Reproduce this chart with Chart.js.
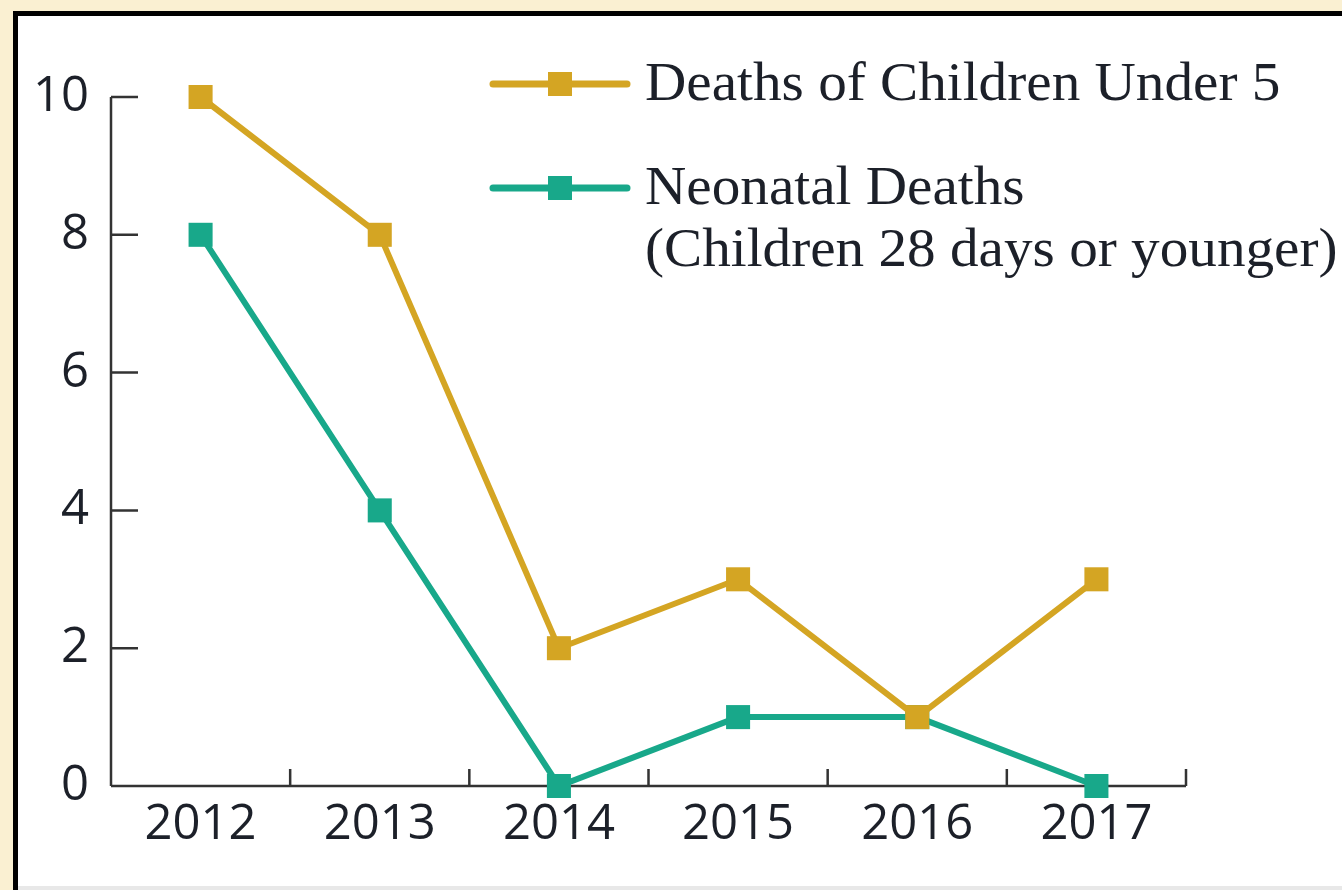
<!DOCTYPE html>
<html>
<head>
<meta charset="utf-8">
<script src="https://cdn.jsdelivr.net/npm/chart.js@4"></script>
<style>
html,body{margin:0;padding:0;background:#faf0d2;}
#wrap{position:absolute;left:0;top:0;width:1342px;height:890px;}
canvas{display:block;}
</style>
</head>
<body>
<div id="wrap"><canvas id="c" width="1342" height="890"></canvas></div>
<script>
const years = ['2012', '2013', '2014', '2015', '2016', '2017'];
const under5Deaths = [10, 8, 2, 3, 1, 3];
const neonatalDeaths = [8, 4, 0, 1, 1, 0];
const yTickValues = [0, 2, 4, 6, 8, 10];
const seriesLabels = [['Deaths of Children Under 5'], ['Neonatal Deaths', '(Children 28 days or younger)']];

const GOLD = '#d4a523';
const TEAL = '#18a88a';
const AXIS = '#333333';
const TEXT = '#1c2029';

const framePlugin = {
  id: 'frame',
  beforeDraw(chart) {
    const ctx = chart.ctx;
    ctx.save();
    ctx.fillStyle = '#faf0d2';
    ctx.fillRect(0, 0, chart.width, chart.height);
    ctx.fillStyle = '#000000';
    ctx.fillRect(13, 11, chart.width - 13, chart.height - 11);
    ctx.fillStyle = '#ffffff';
    ctx.fillRect(18, 16, chart.width - 18, chart.height - 16);
    ctx.fillStyle = '#e8e8e8';
    ctx.fillRect(18, 886, chart.width - 18, 4);
    ctx.restore();
  }
};

const axesPlugin = {
  id: 'innerAxes',
  beforeDatasetsDraw(chart) {
    const ctx = chart.ctx;
    const x = chart.scales.x, y = chart.scales.y;
    const a = chart.chartArea;
    ctx.save();
    ctx.strokeStyle = AXIS;
    ctx.lineWidth = 2.5;
    ctx.lineCap = 'butt';
    ctx.beginPath();
    ctx.moveTo(a.left, y.getPixelForValue(yTickValues[yTickValues.length - 1]));
    ctx.lineTo(a.left, a.bottom);
    ctx.moveTo(a.left, a.bottom);
    ctx.lineTo(a.right, a.bottom);
    yTickValues.forEach(v => {
      const py = y.getPixelForValue(v);
      if (v !== 0) { ctx.moveTo(a.left, py); ctx.lineTo(a.left + 27, py); }
    });
    for (let i = 1; i <= years.length; i++) {
      const px = x.getPixelForValue(i - 0.5);
      ctx.moveTo(px, a.bottom); ctx.lineTo(px, a.bottom - 17);
    }
    ctx.stroke();
    ctx.restore();
  }
};

const legendPlugin = {
  id: 'customLegend',
  afterDraw(chart) {
    const ctx = chart.ctx;
    const ds = chart.data.datasets;
    const rows = [84, 188];
    ctx.save();
    ds.forEach((d, i) => {
      const cy = rows[i];
      ctx.strokeStyle = d.borderColor;
      ctx.lineWidth = 7;
      ctx.lineCap = 'round';
      ctx.beginPath();
      ctx.moveTo(493, cy); ctx.lineTo(627, cy);
      ctx.stroke();
      ctx.fillStyle = d.borderColor;
      ctx.fillRect(560 - 12, cy - 12, 24, 24);
      ctx.fillStyle = TEXT;
      ctx.font = '55px "Liberation Serif", "DejaVu Serif", serif';
      ctx.textBaseline = 'middle';
      ctx.textAlign = 'left';
      seriesLabels[i].forEach((line, j) => {
        ctx.save();
        ctx.translate(645, cy + 2 + j * 62);
        ctx.scale(1.04, 1);
        ctx.fillText(line, 0, 0);
        ctx.restore();
      });
    });
    ctx.restore();
  }
};

new Chart(document.getElementById('c'), {
  type: 'line',
  data: {
    labels: years,
    datasets: [
      {
        label: seriesLabels[0].join(' '),
        data: under5Deaths,
        borderColor: GOLD,
        backgroundColor: GOLD,
        borderWidth: 6,
        pointStyle: 'rect',
        pointRadius: 17,
        pointBorderWidth: 0,
        pointBackgroundColor: GOLD,
        tension: 0,
        clip: false
      },
      {
        label: seriesLabels[1].join(' '),
        data: neonatalDeaths,
        borderColor: TEAL,
        backgroundColor: TEAL,
        borderWidth: 6,
        pointStyle: 'rect',
        pointRadius: 17,
        pointBorderWidth: 0,
        pointBackgroundColor: TEAL,
        tension: 0,
        clip: false
      }
    ]
  },
  options: {
    responsive: false,
    animation: false,
    events: [],
    layout: { padding: { top: 97, right: 156, left: 0, bottom: 0 } },
    plugins: { legend: { display: false }, tooltip: { enabled: false } },
    scales: {
      x: {
        type: 'category',
        offset: true,
        border: { display: false },
        grid: { display: false },
        ticks: {
          color: TEXT,
          font: { family: '"Open Sans", sans-serif', size: 49 },
          padding: 2,
          maxRotation: 0,
          autoSkip: false
        },
        afterFit(s) { s.height = 104; }
      },
      y: {
        min: 0,
        max: 10,
        border: { display: false },
        grid: { display: false },
        afterBuildTicks(s) { s.ticks = yTickValues.map(v => ({ value: v })); },
        ticks: {
          color: TEXT,
          font: { family: '"Open Sans", sans-serif', size: 49 },
          padding: 14
        },
        afterFit(s) { s.width = 111; }
      }
    }
  },
  plugins: [framePlugin, axesPlugin, legendPlugin]
});
</script>
</body>
</html>
